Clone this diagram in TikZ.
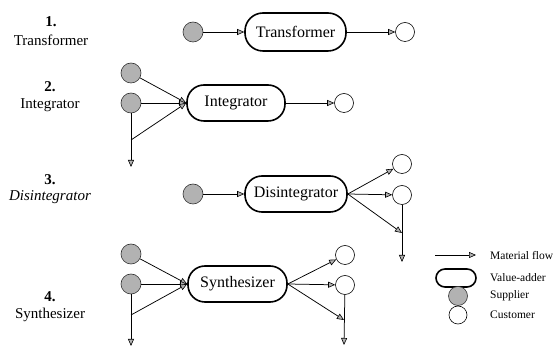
\documentclass[tikz,border=0pt]{standalone}
\usepackage{fontspec}
\setmainfont{Liberation Serif}
\usetikzlibrary{arrows.meta}
\begin{document}
\begin{tikzpicture}[x=1pt,y=-1pt,
  adder/.style={draw=black,line width=1.6pt,rounded corners=17pt,minimum height=36pt,inner sep=0pt,font=\fontsize{16}{18}\selectfont},
  supplier/.style={circle,draw=gray!40!black,fill=gray!60,minimum size=20pt,inner sep=0pt,line width=0.6pt},
  customer/.style={circle,draw=black,minimum size=19pt,inner sep=0pt,line width=0.6pt},
  flow/.style={line width=0.75pt,-{Triangle[length=7pt,width=6pt,fill=gray!60,line width=0.6pt]}},
  lbl/.style={font=\fontsize{15}{17}\selectfont,align=center},
  num/.style={font=\fontsize{15}{17}\selectfont\bfseries,align=center},
  leg/.style={font=\fontsize{11.5}{13}\selectfont,anchor=west,inner sep=0pt}]
\useasboundingbox (0,0) rectangle (560,352);
% left labels
\node[num] (n1) at (51,22) {1.};
\node[lbl] (l1) at (51,40) {Transformer};
\node[num] (n2) at (50,87) {2.};
\node[lbl] (l2) at (50,105) {Integrator};
\node[num] (n3) at (50,180) {3.};
\node[lbl,font=\fontsize{15}{17}\selectfont\itshape] (l3) at (50,197) {Disintegrator};
\node[num] (n4) at (50,297) {4.};
\node[lbl] (l4) at (50,315) {Synthesizer};
% row 1
\node[supplier] (s1) at (193,32) {};
\node[adder,minimum width=101pt,minimum height=38pt,rounded corners=18pt] (t1) at (295.5,32) {Transformer};
\node[customer] (c1) at (405,32) {};
\draw[flow] (s1) -- (t1);
\draw[flow] (t1) -- (c1);
% row 2
\node[supplier] (s2a) at (131,73) {};
\node[supplier] (s2b) at (131,103) {};
\node[adder,minimum width=98pt] (i2) at (236,103) {Integrator};
\node[customer] (c2) at (344,103) {};
\coordinate (b2) at (131,140);
\coordinate (e2) at (131,167);
\draw[flow] (s2a) -- (i2.west);
\draw[flow] (s2b) -- (i2.west);
\draw[flow] (b2) -- (i2.west);
\draw[flow] (s2b) -- (e2);
\draw[flow] (i2) -- (c2);
% row 3
\node[supplier] (s3) at (193,194) {};
\node[adder,minimum width=102pt] (d3) at (296,194) {Disintegrator};
\node[customer] (c3a) at (402,164) {};
\node[customer] (c3b) at (402,195) {};
\coordinate (v3) at (402,233);
\coordinate (e3) at (402,262);
\draw[flow] (s3) -- (d3);
\draw[flow] (d3.east) -- (c3a);
\draw[flow] (d3.east) -- (c3b);
\draw[flow] (d3.east) -- (v3);
\draw[flow] (c3b) -- (e3);
% row 4
\node[supplier] (s4a) at (131,254) {};
\node[supplier] (s4b) at (131,284) {};
\node[adder,minimum width=99pt] (y4) at (237.5,284) {Synthesizer};
\node[customer] (c4a) at (345,255) {};
\node[customer] (c4b) at (345,285) {};
\coordinate (b4) at (131,315);
\coordinate (e4) at (131,346);
\coordinate (v4) at (344,320);
\coordinate (f4) at (344,345);
\draw[flow] (s4a) -- (y4.west);
\draw[flow] (s4b) -- (y4.west);
\draw[flow] (b4) -- (y4.west);
\draw[flow] (s4b) -- (e4);
\draw[flow] (y4.east) -- (c4a);
\draw[flow] (y4.east) -- (c4b);
\draw[flow] (y4.east) -- (v4);
\draw[flow] (c4b) -- (f4);
% legend
\coordinate (la) at (435,255);
\coordinate (lb) at (476,255);
\draw[flow] (la) -- (lb);
\node[leg] (tf) at (490,256) {Material flow};
\node[adder,minimum width=40pt,minimum height=18pt,rounded corners=9pt] (lv) at (456,278) {};
\node[leg] (tv) at (490,278) {Value-adder};
\node[supplier,minimum size=19pt] (ls) at (458,296) {};
\node[leg] (ts) at (490,296) {Supplier};
\node[customer,minimum size=18pt] (lc) at (458,315) {};
\node[leg] (tc) at (490,315) {Customer};
\end{tikzpicture}
\end{document}
